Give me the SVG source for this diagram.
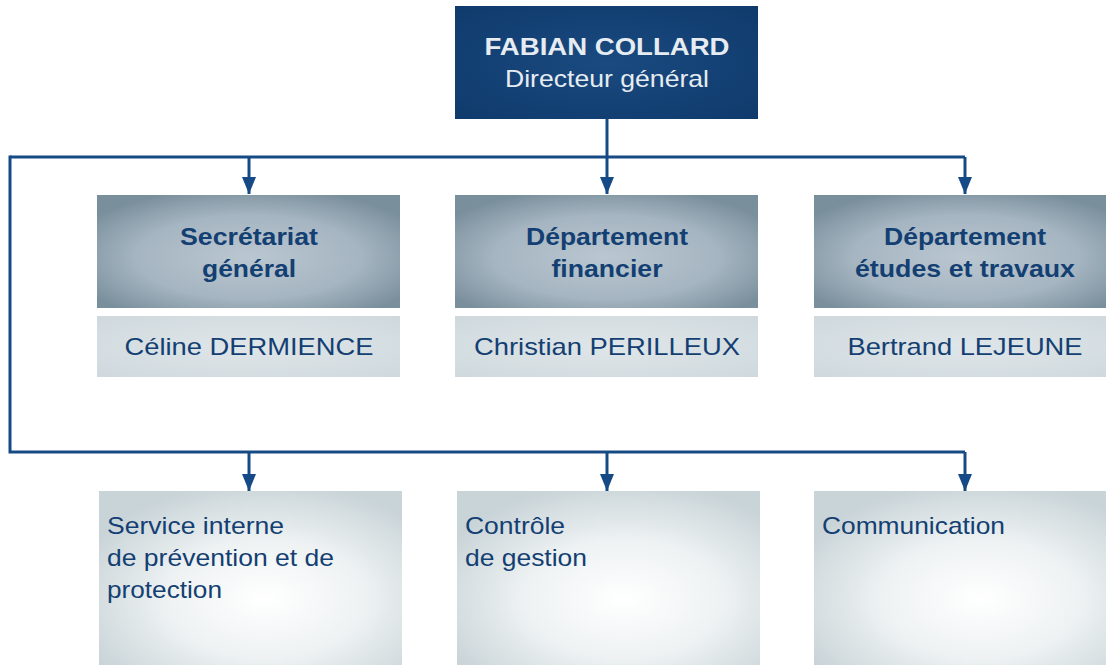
<svg xmlns="http://www.w3.org/2000/svg" width="1106" height="665" viewBox="0 0 1106 665">
<defs>
<radialGradient id="gTop" cx="0.5" cy="0.5" r="0.7">
<stop offset="0" stop-color="#1a4a80"/>
<stop offset="1" stop-color="#0f3a6c"/>
</radialGradient>
<radialGradient id="gDept" cx="0.5" cy="0.55" r="0.62">
<stop offset="0" stop-color="#bac7d1"/>
<stop offset="0.6" stop-color="#a5b5c1"/>
<stop offset="1" stop-color="#7a8f9c"/>
</radialGradient>
<radialGradient id="gName" cx="0.5" cy="0.5" r="0.7">
<stop offset="0" stop-color="#dfe6e9"/>
<stop offset="1" stop-color="#cfd9dd"/>
</radialGradient>
<radialGradient id="gBot" cx="0.55" cy="0.6" r="0.65">
<stop offset="0" stop-color="#ffffff"/>
<stop offset="0.5" stop-color="#eef2f3"/>
<stop offset="1" stop-color="#c9d4d8"/>
</radialGradient>
<marker id="arr" viewBox="0 0 17 14" refX="17" refY="7" markerWidth="17" markerHeight="14" markerUnits="userSpaceOnUse" orient="auto">
<path d="M0,0 L17,7 L0,14 Z" fill="#154a86"/>
</marker>
</defs>
<style>
.ln{fill:none;stroke:#164a85;stroke-width:3}
.t{font-family:"Liberation Sans",Arial,sans-serif;font-size:24px;fill:#143f72}
.b{font-weight:bold}
.w{fill:#e6ecf1}
</style>
<g id="connectors">
<path class="ln" d="M607,119 V157"/>
<path class="ln" d="M10,157 H965"/>
<path class="ln" d="M249,157 V194" marker-end="url(#arr)"/>
<path class="ln" d="M607,157 V194" marker-end="url(#arr)"/>
<path class="ln" d="M965,157 V194" marker-end="url(#arr)"/>
<path class="ln" d="M10,155.5 V452 H965"/>
<path class="ln" d="M249,452 V491" marker-end="url(#arr)"/>
<path class="ln" d="M607,452 V491" marker-end="url(#arr)"/>
<path class="ln" d="M965,452 V491" marker-end="url(#arr)"/>
</g>
<g id="director">
<rect x="455" y="6" width="303" height="113" fill="url(#gTop)"/>
<text class="t b w" x="607" y="55" text-anchor="middle" textLength="245" lengthAdjust="spacingAndGlyphs">FABIAN COLLARD</text>
<text class="t w" x="607" y="87" text-anchor="middle" textLength="204" lengthAdjust="spacingAndGlyphs">Directeur général</text>
</g>
<g id="secretariat">
<rect x="97" y="195" width="303" height="113" fill="url(#gDept)"/>
<text class="t b" x="249" y="245" text-anchor="middle" textLength="138" lengthAdjust="spacingAndGlyphs">Secrétariat</text>
<text class="t b" x="249" y="277" text-anchor="middle" textLength="94" lengthAdjust="spacingAndGlyphs">général</text>
<rect x="97" y="316" width="303" height="61" fill="url(#gName)"/>
<text class="t" x="249" y="355" text-anchor="middle" textLength="249" lengthAdjust="spacingAndGlyphs">Céline DERMIENCE</text>
</g>
<g id="financier">
<rect x="455" y="195" width="303" height="113" fill="url(#gDept)"/>
<text class="t b" x="607" y="245" text-anchor="middle" textLength="162" lengthAdjust="spacingAndGlyphs">Département</text>
<text class="t b" x="607" y="277" text-anchor="middle" textLength="111" lengthAdjust="spacingAndGlyphs">financier</text>
<rect x="455" y="316" width="303" height="61" fill="url(#gName)"/>
<text class="t" x="607" y="355" text-anchor="middle" textLength="266" lengthAdjust="spacingAndGlyphs">Christian PERILLEUX</text>
</g>
<g id="etudes">
<rect x="814" y="195" width="303" height="113" fill="url(#gDept)"/>
<text class="t b" x="965" y="245" text-anchor="middle" textLength="162" lengthAdjust="spacingAndGlyphs">Département</text>
<text class="t b" x="965" y="277" text-anchor="middle" textLength="220" lengthAdjust="spacingAndGlyphs">études et travaux</text>
<rect x="814" y="316" width="303" height="61" fill="url(#gName)"/>
<text class="t" x="965" y="355" text-anchor="middle" textLength="235" lengthAdjust="spacingAndGlyphs">Bertrand LEJEUNE</text>
</g>
<g id="sipp">
<rect x="99" y="491" width="303" height="180" fill="url(#gBot)"/>
<text class="t" x="107" y="534" textLength="177" lengthAdjust="spacingAndGlyphs">Service interne</text>
<text class="t" x="107" y="566" textLength="227" lengthAdjust="spacingAndGlyphs">de prévention et de</text>
<text class="t" x="107" y="598" textLength="115" lengthAdjust="spacingAndGlyphs">protection</text>
</g>
<g id="controle">
<rect x="457" y="491" width="303" height="180" fill="url(#gBot)"/>
<text class="t" x="465" y="534" textLength="100" lengthAdjust="spacingAndGlyphs">Contrôle</text>
<text class="t" x="465" y="566" textLength="122" lengthAdjust="spacingAndGlyphs">de gestion</text>
</g>
<g id="communication">
<rect x="814" y="491" width="303" height="180" fill="url(#gBot)"/>
<text class="t" x="822" y="534" textLength="183" lengthAdjust="spacingAndGlyphs">Communication</text>
</g>
</svg>
